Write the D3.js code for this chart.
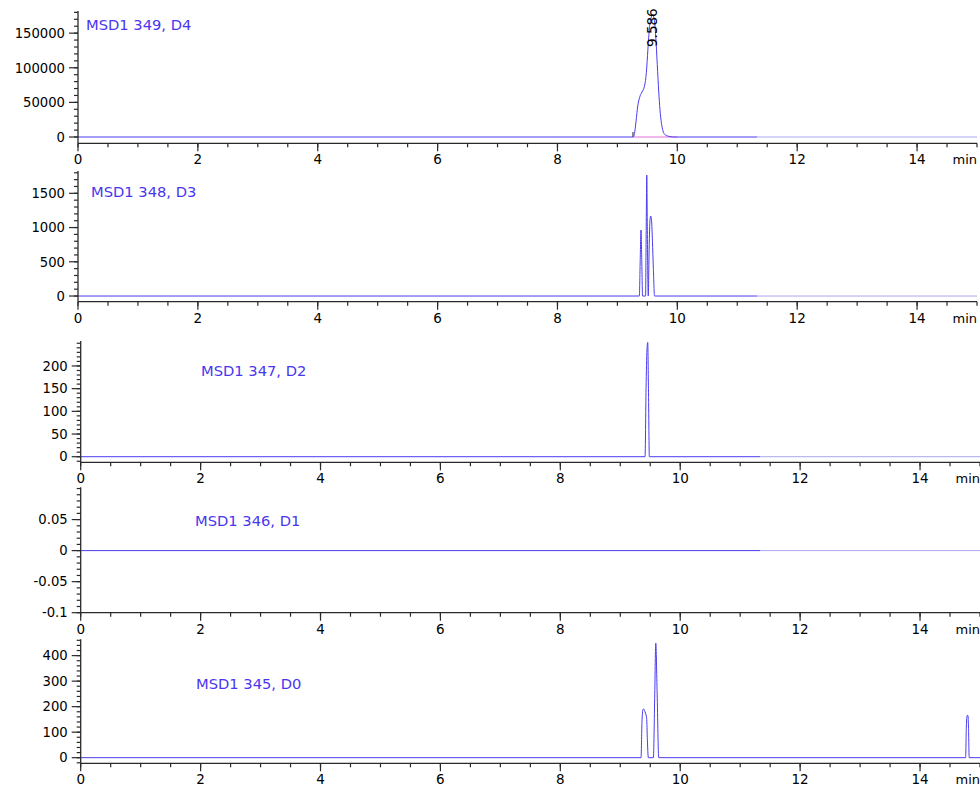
<!DOCTYPE html>
<html>
<head>
<meta charset="utf-8">
<script src="https://cdn.jsdelivr.net/npm/d3@7/dist/d3.min.js"></script>
<style>
  body { margin: 0; background: #fff; }
  svg { display: block; font-family: "DejaVu Sans", sans-serif; }
  .axis line, .axis path { stroke: #2a2a2a; }
</style>
</head>
<body>
<svg id="chart" width="980" height="788"></svg>
<script>
// ---- data (time in min, signal in counts) ----
var traceNames = ['MSD1 349, D4', 'MSD1 348, D3', 'MSD1 347, D2', 'MSD1 346, D1', 'MSD1 345, D0'];

var d4Time   = [0, 9.26, 9.285, 9.31, 9.34, 9.37, 9.41, 9.45, 9.475, 9.49, 9.515, 9.545, 9.586, 9.615, 9.64, 9.665, 9.69, 9.71, 9.735, 9.76, 9.80, 9.88, 9.95, 11.33];
var d4Signal = [0, 0, 5000, 22000, 45000, 57000, 65000, 73000, 86000, 101000, 135000, 165000, 176000, 170000, 145000, 105000, 65000, 40000, 20000, 9000, 3000, 600, 0, 0];

var d3Time   = [0, 9.366, 9.38, 9.394, 9.407, 9.42, 9.47, 9.48, 9.49, 9.50, 9.515, 9.53, 9.545, 9.556, 9.57, 9.585, 9.60, 9.62, 11.33];
var d3Signal = [0, 0, 500, 964, 500, 0, 0, 900, 1767, 900, 0, 700, 1120, 1168, 1100, 800, 400, 0, 0];

var d2Time   = [0, 9.413, 9.43, 9.445, 9.458, 9.47, 9.485, 11.33];
var d2Signal = [0, 0, 150, 235, 252, 150, 0, 0];

var d1Time   = [0, 11.33];
var d1Signal = [0, 0];

var d0Time   = [0, 9.346, 9.362, 9.378, 9.39, 9.405, 9.42, 9.44, 9.452, 9.468, 9.552, 9.575, 9.592, 9.615, 9.641, 14.76, 14.772, 14.785, 14.80, 14.808, 14.82, 15];
var d0Signal = [0, 0, 140, 188, 191, 185, 175, 154, 70, 0, 0, 250, 449, 250, 0, 0, 120, 165, 165, 120, 0, 0];

var yMin = [-9100, -83, -12.3, -0.1, -22];
var yMax = [182000, 1826, 255, 0.102, 464];
var yMajorTicks = [[0, 50000, 100000, 150000], [0, 500, 1000, 1500], [0, 50, 100, 150, 200], [-0.1, -0.05, 0, 0.05], [0, 100, 200, 300, 400]];
var yTickLabels = [['0', '50000', '100000', '150000'], ['0', '500', '1000', '1500'], ['0', '50', '100', '150', '200'], ['-0.1', '-0.05', '0', '0.05'], ['0', '100', '200', '300', '400']];
var yMinorStep = [10000, 100, 10, 0.01, 20];

var xMajorTicks = [0, 2, 4, 6, 8, 10, 12, 14];
var xTickLabels = ['0', '2', '4', '6', '8', '10', '12', '14'];
var xMinorStep = 0.5;
var xEnd = 15;

var peakTime = 9.586;
var peakLabel = '9.586';
var integStart = 9.26, integEnd = 10.0;

// ---- layout ----
var boxes = [
  {l: 78,   r: 977, t: 11,    b: 143.3, lx: 86,  ly: 30},
  {l: 78,   r: 977, t: 171,   b: 301.7, lx: 91,  ly: 197},
  {l: 80.7, r: 980, t: 341,   b: 462.3, lx: 201, ly: 376},
  {l: 80.7, r: 980, t: 487.3, b: 612.7, lx: 195, ly: 526},
  {l: 80.7, r: 980, t: 639.3, b: 763.3, lx: 196, ly: 689}
];
var series = [[d4Time, d4Signal], [d3Time, d3Signal], [d2Time, d2Signal], [d1Time, d1Signal], [d0Time, d0Signal]];

var traceColor = '#4a3cf0';
var svg = d3.select('#chart');

boxes.forEach(function(bx, i) {
  var x = d3.scaleLinear().domain([0, xEnd]).range([bx.l, bx.r]);
  var y = d3.scaleLinear().domain([yMin[i], yMax[i]]).range([bx.b, bx.t]);
  var g = svg.append('g');

  var pts = series[i][0].map(function(t, k) { return [t, series[i][1][k]]; });
  var line = d3.line()
    .x(function(d) { return x(d[0]); })
    .y(function(d) { return y(d[1]); })
    .curve(d3.curveMonotoneX);

  // pale baseline after the run ends
  var lastT = pts[pts.length - 1][0];
  if (lastT < xEnd) {
    g.append('line')
      .attr('x1', x(lastT)).attr('x2', x(xEnd))
      .attr('y1', y(0)).attr('y2', y(0))
      .attr('stroke', '#aaa6ee').attr('stroke-width', 1);
  }

  // integration baseline and marker (top trace only)
  if (i == 0) {
    g.append('line')
      .attr('x1', x(integStart)).attr('x2', x(integEnd))
      .attr('y1', y(0)).attr('y2', y(0))
      .attr('stroke', '#e070d8').attr('stroke-width', 1);
    g.append('line')
      .attr('x1', x(integStart)).attr('x2', x(integStart))
      .attr('y1', y(0)).attr('y2', y(0) - 5)
      .attr('stroke', '#222').attr('stroke-width', 1);
  }

  g.append('path')
    .datum(pts)
    .attr('d', line)
    .attr('fill', 'none')
    .attr('stroke', traceColor)
    .attr('stroke-width', 1);

  // x axis
  var xa = g.append('g').attr('class', 'axis');
  xa.append('line')
    .attr('x1', bx.l).attr('x2', bx.r).attr('y1', bx.b).attr('y2', bx.b)
    .attr('stroke-width', 1.3);
  xa.selectAll('.xminor')
    .data(d3.range(0, xEnd + 0.001, xMinorStep))
    .enter().append('line')
    .attr('x1', function(d) { return x(d); }).attr('x2', function(d) { return x(d); })
    .attr('y1', bx.b).attr('y2', bx.b + 4)
    .attr('stroke-width', 1.2);
  xa.selectAll('.xmajor')
    .data(xMajorTicks)
    .enter().append('line')
    .attr('x1', function(d) { return x(d); }).attr('x2', function(d) { return x(d); })
    .attr('y1', bx.b).attr('y2', bx.b + 8)
    .attr('stroke-width', 1.2);
  xa.selectAll('text')
    .data(xMajorTicks)
    .enter().append('text')
    .attr('x', function(d) { return x(d); })
    .attr('y', bx.b + 21)
    .attr('text-anchor', 'middle')
    .attr('font-size', 13.5)
    .attr('fill', '#000')
    .text(function(d, k) { return xTickLabels[k]; });
  xa.append('text')
    .attr('x', bx.r).attr('y', bx.b + 21)
    .attr('text-anchor', 'end')
    .attr('font-size', 13)
    .attr('fill', '#000')
    .text('min');

  // y axis
  var ya = g.append('g').attr('class', 'axis');
  ya.append('line')
    .attr('x1', bx.l).attr('x2', bx.l).attr('y1', bx.t).attr('y2', bx.b)
    .attr('stroke-width', 1.3);
  var minorY = d3.range(Math.ceil(yMin[i] / yMinorStep[i] - 1e-6), Math.floor(yMax[i] / yMinorStep[i] + 1e-6) + 1)
    .map(function(k) { return k * yMinorStep[i]; });
  ya.selectAll('.yminor')
    .data(minorY)
    .enter().append('line')
    .attr('x1', bx.l - 4).attr('x2', bx.l)
    .attr('y1', function(d) { return y(d); }).attr('y2', function(d) { return y(d); })
    .attr('stroke-width', 1.2);
  ya.selectAll('.ymajor')
    .data(yMajorTicks[i])
    .enter().append('line')
    .attr('x1', bx.l - 9).attr('x2', bx.l)
    .attr('y1', function(d) { return y(d); }).attr('y2', function(d) { return y(d); })
    .attr('stroke-width', 1.2);
  ya.selectAll('text')
    .data(yMajorTicks[i])
    .enter().append('text')
    .attr('x', bx.l - 13)
    .attr('y', function(d) { return y(d); })
    .attr('dy', '0.36em')
    .attr('text-anchor', 'end')
    .attr('font-size', 13.2)
    .attr('fill', '#000')
    .text(function(d, k) { return yTickLabels[i][k]; });

  // trace name
  g.append('text')
    .attr('x', bx.lx).attr('y', bx.ly)
    .attr('font-size', 14.7)
    .attr('fill', '#4a36ee')
    .text(traceNames[i]);

  // retention time label
  if (i == 0) {
    g.append('text')
      .attr('transform', 'translate(' + x(peakTime) + ',47) rotate(-90)')
      .attr('dy', '0.3em')
      .attr('font-size', 13.5)
      .attr('fill', '#000')
      .text(peakLabel);
  }
});
</script>
</body>
</html>
